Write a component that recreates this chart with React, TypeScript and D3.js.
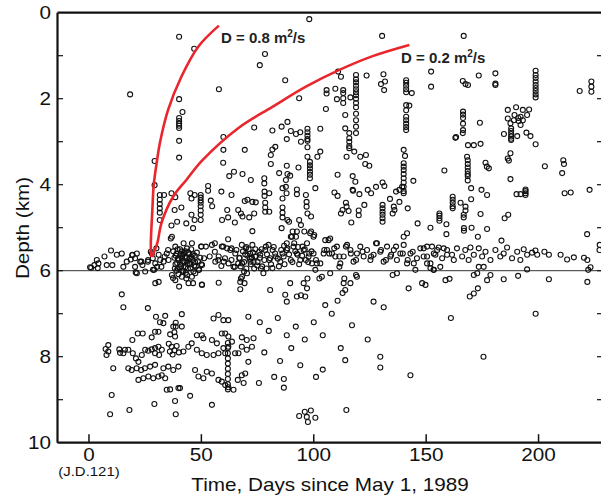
import React from 'react';
import * as d3 from 'd3';

type P = [number, number];

const xTicks = [0, 50, 100, 150, 200];
const yTickLabels = [0, 2, 4, 6, 8, 10];
const yMinorTicks = [1, 2, 3, 4, 5, 6, 7, 8, 9];

// theoretical diffusion fronts (day, depth km)
const curve08: P[] = [[27.7, 5.68], [27.5, 5.4], [28.2, 4.59], [28.8, 4.01], [30.3, 3.43], [31.5, 3.04], [35.2, 2.26], [41.1, 1.49], [48.6, 0.79], [57.8, 0.30]];
const curve02: P[] = [[28.0, 5.68], [30.4, 5.36], [32.2, 4.90], [37.4, 4.28], [43.3, 3.89], [50.5, 3.43], [66.8, 2.67], [81.6, 2.19], [96.5, 1.72], [111.4, 1.33], [126.2, 1.01], [142.5, 0.75]];

// vertical streaks of events: [day, depths]
const streaks: [number, number[]][] = [
  [40.1, [2.45, 2.52, 2.58, 2.63, 2.68]],
  [118.8, [1.45, 1.55, 1.62, 1.7, 1.78, 1.85, 1.92, 2.0, 2.1, 2.2, 2.35, 2.5, 2.65, 2.8]],
  [141.1, [1.57, 1.63, 1.70, 1.78, 1.85, 2.15, 2.27, 2.42, 2.5, 2.58, 2.66, 2.73]],
  [105.7, [1.80, 1.88]],
  [113.1, [1.80, 1.87]],
  [115.8, [2.80, 2.92, 3.0, 3.1, 3.15]],
  [97.2, [2.7, 2.78, 2.86, 2.94, 2.98]],
  [198.7, [1.35, 1.45, 1.52, 1.6, 1.68, 1.75, 1.82, 1.9, 1.97]],
  [223.5, [1.60, 1.72, 1.84]],
  [166.4, [2.3, 2.37, 2.45, 2.58, 2.73]],
  [187.8, [2.69, 2.75, 2.82, 2.88, 2.93, 2.96]],
  [31.5, [4.24, 4.35, 4.45, 4.55, 4.65, 4.82]],
  [49.7, [4.24, 4.3, 4.36, 4.42, 4.5, 4.6, 4.7, 4.82]],
  [98.3, [3.47, 3.55, 3.62, 3.7, 3.77, 3.85]],
  [130.6, [4.47, 4.55, 4.63, 4.7, 4.78, 4.86]],
  [140, [3.5, 3.58, 3.66, 3.75, 3.85, 3.95, 4.05, 4.15, 4.2]],
  [168.5, [3.43, 3.52, 3.6, 3.68, 3.75, 3.8, 3.9]],
  [194.2, [4.11, 4.15, 4.2, 4.24]],
  [161.8, [4.28, 4.35, 4.42, 4.5, 4.55]],
  [155.9, [4.67, 4.72, 4.78, 4.84]],
  [61.8, [7.68, 7.8, 7.92, 8.04, 8.16, 8.28, 8.4, 8.52, 8.64, 8.76]],
];

const upperPoints: P[] = [
  [40.1, 0.56], [46.8, 0.84], [18.3, 1.90], [57.8, 1.78], [40.1, 2.01], [41.6, 2.31], [40.1, 2.98], [40.1, 3.37], [59.8, 2.89], [59.8, 3.19],
  [98.0, 0.15], [130.4, 0.54], [78.3, 0.96], [76.0, 1.22], [87.3, 1.57], [93.5, 1.99], [110.8, 1.37], [112.1, 1.49], [123.5, 1.46], [131, 1.43],
  [131.7, 1.60], [129.9, 1.66], [131.3, 1.80], [143.6, 1.87], [142.5, 2.16], [140, 3.19], [140.6, 3.33], [109.6, 1.77], [110.3, 2.01], [113.1, 1.99],
  [116.3, 1.97], [113.1, 2.1], [105.4, 2.24], [114.0, 2.38], [114, 2.69], [118, 3.23], [120.7, 3.35], [123.2, 3.31], [114.6, 3.35], [73.5, 2.67],
  [81.6, 2.74], [85.7, 2.65], [88.3, 2.54], [88, 2.94], [89.8, 2.75], [92.1, 2.82], [94, 2.78], [94.3, 3.0], [102.9, 2.70], [97.2, 3.13],
  [97.2, 3.35], [101.6, 3.35], [102.9, 3.23], [69.3, 3.19], [81.6, 3.18], [82.9, 3.12], [80.9, 3.31],
  [166.7, 0.54], [152.2, 1.37], [152.2, 1.72], [166.3, 1.59], [168.6, 1.68], [167.5, 1.66], [173.4, 1.46], [180.8, 1.41], [180.8, 1.68], [180.8, 1.65],
  [218.3, 1.82], [173.9, 2.56], [166.3, 2.80], [163, 2.91], [163.3, 2.89], [168.6, 3.08], [171.2, 3.08], [174.2, 3.05], [168.2, 3.35], [186.3, 2.26],
  [190, 2.2], [193, 2.26], [195.8, 2.25], [194.9, 2.38], [192, 2.42], [189.3, 2.38], [186.3, 2.46], [187.5, 2.57], [192, 2.61], [189, 2.5],
  [191.2, 2.52], [194.6, 2.79], [196.4, 2.87], [184.6, 2.82], [190.5, 2.87], [198.7, 3.06], [187.5, 3.27], [186.3, 3.39], [211, 3.43], [191, 2.45], [193, 2.5],
  [29.2, 4.01], [29.2, 3.45], [33.4, 4.24], [36.7, 4.20], [38.4, 4.29], [38.1, 4.59], [41.1, 4.53], [39.2, 4.86], [36.7, 4.95], [36.4, 5.25],
  [43.3, 4.9], [45.1, 4.20], [45.6, 4.32], [47, 4.24], [45.6, 4.7], [47, 4.82], [46.3, 5.01], [53, 4.03], [53, 4.14], [54.2, 4.37],
  [54.8, 4.5], [58.9, 4.16], [63.4, 4.24], [59.7, 3.49], [62.4, 3.80], [64.5, 3.70], [61.5, 4.59], [66.4, 4.59], [59.2, 4.82], [61.9, 4.76], [64.9, 4.88],
  [68.3, 3.75], [72, 3.89], [80.9, 3.52], [78, 3.85], [78, 3.97], [78.1, 4.16], [78.1, 4.26], [80.2, 4.2], [84.6, 3.73], [88, 3.56],
  [88.3, 3.75], [89.5, 3.79], [87.6, 3.89], [86.1, 4.08], [87.6, 4.05], [87.9, 4.2], [86.1, 4.32], [93.2, 3.60], [92.5, 4.11], [92.5, 4.22],
  [100.7, 4.08], [96.5, 4.24], [96.8, 4.4], [96.8, 4.51], [97.2, 4.67], [98.8, 4.74], [94.3, 4.94], [93.5, 4.82], [95.8, 5.09], [98.8, 5.09],
  [100.2, 5.17], [90.6, 5.09], [92.1, 5.21], [86.1, 4.53], [86.1, 4.65], [86.1, 4.76], [88.3, 4.82], [89, 4.86], [85.7, 5.01], [89.8, 5.21],
  [72.7, 4.40], [74.2, 4.41], [70.5, 4.35], [69.3, 4.38], [78.4, 4.42], [78.4, 4.53], [78.4, 4.63], [80.2, 4.63], [73.5, 4.67], [67.6, 4.67],
  [68.3, 4.74], [71.3, 4.76], [72.7, 5.08], [110.6, 3.77], [109.2, 4.18], [110.6, 4.26], [117.3, 3.80], [118.5, 3.93], [117.3, 4.12], [117.5, 4.14],
  [120.3, 4.22], [124, 4.12], [122.5, 4.47], [114.3, 4.42], [114.6, 4.51], [112.8, 4.59], [112.1, 4.67], [115.5, 4.61], [120, 4.6], [120, 4.71],
  [116.7, 4.88], [122.9, 3.52], [124.7, 3.56], [130.6, 3.95], [131.4, 4.03], [127.7, 4.05], [125.5, 4.20], [135.1, 4.67], [135.9, 4.59], [135.6, 4.51],
  [133.9, 4.33], [138.1, 4.4], [141.8, 4.55], [146.2, 4.9], [136.6, 4.16], [138.1, 4.12], [139.3, 4.05], [144.3, 3.91],
  [158.1, 3.67], [170, 4.08], [170, 4.34], [176.4, 3.49], [177.9, 3.62], [177, 3.58], [174.6, 4.12], [177.1, 4.24], [187.5, 3.87], [186.8, 3.44],
  [192, 4.22], [190.2, 4.22], [202.8, 3.57], [211.3, 3.52], [210.5, 3.73], [211.6, 4.2], [214.3, 4.18], [222.7, 4.12], [165.3, 4.42], [167.5, 4.51],
  [167.5, 4.6], [159, 4.92], [159, 5.15], [151.9, 5.0], [166.7, 4.7], [166.7, 4.76], [166.8, 5.01], [166.8, 5.07], [170.2, 5.0], [174.2, 4.68],
  [177.1, 5.03], [184.9, 4.78], [186.5, 4.7], [173, 5.21], [183.5, 5.3], [221.6, 5.15], [227.2, 5.4],
];

const bandPoints: P[] = [
  [0.5, 5.92], [2.4, 5.87], [3.5, 5.75], [4.2, 5.83], [3.9, 5.94], [6.9, 5.67], [7.9, 5.87], [9.8, 5.53], [10.4, 5.87], [12.4, 5.63],
  [14.6, 5.60], [15.3, 5.91], [16.8, 5.79], [19.4, 5.63], [20.5, 5.71], [21.3, 5.60], [20.5, 5.91], [21.3, 6.06], [22.8, 5.79], [23.8, 5.87],
  [25.0, 6.02], [26.2, 5.79], [28.0, 5.60], [28.4, 5.71], [29.0, 5.98], [29.5, 5.83], [31.0, 5.63], [31.7, 5.75], [33.2, 5.79], [34.6, 5.60],
  [35.4, 5.75], [18.6, 5.74], [19.2, 5.64], [23.3, 5.79], [27.5, 5.56], [30, 5.48], [32.2, 5.91], [33.7, 5.67], [35.2, 5.52], [30.3, 5.91],
  [28.5, 5.98], [20.8, 6.04], [26.3, 5.75], [1.0, 5.93],
  [36.9, 5.21], [38.4, 5.44], [42.1, 5.36], [43.6, 5.48], [45.8, 5.36], [49.9, 5.44], [54.7, 5.40], [59.1, 5.44], [61.4, 5.48], [62.9, 5.52],
  [65.1, 5.60], [66.9, 5.71], [57.7, 5.67], [56.2, 5.79], [59.9, 5.79], [62.1, 5.83], [64.3, 5.91], [68.1, 5.83], [71.8, 5.79], [70.3, 6.06],
  [68.1, 6.14], [67.3, 6.26], [69.2, 6.29], [67.3, 6.43], [57.7, 6.28], [50.2, 6.32], [44.3, 6.29], [40.1, 6.37], [38.4, 6.22], [36.9, 6.1],
  [41.3, 6.14], [43.6, 6.1], [45.8, 6.14], [47.3, 6.06], [48.8, 5.98], [37.4, 6.17], [43.3, 6.18], [46.3, 6.29], [50.3, 6.33],
  [56, 5.36], [59.7, 5.44], [61.9, 5.27], [63.4, 5.48], [65.6, 5.52], [57.5, 5.75], [60.5, 5.71], [63.4, 5.75], [66.4, 5.83], [56, 5.56],
  [53.7, 5.67], [58.9, 5.89], [64.9, 5.91], [51.2, 5.71], [50.3, 5.87], [52, 5.44], [50, 5.44],
  [37.5, 5.55], [38, 5.7], [38.5, 5.85], [39, 5.6], [39.5, 5.95], [40, 5.75], [40.5, 5.5], [41, 5.9], [41.5, 5.65], [42, 6.0],
  [42.5, 5.8], [43, 5.55], [43.5, 5.7], [44, 5.95], [44.5, 5.62], [45, 5.85], [45.5, 5.5], [46, 5.75], [46.5, 6.02], [47, 5.65],
  [47.5, 5.9], [48, 5.58], [48.5, 5.78], [49, 5.98], [49.5, 5.7], [50, 5.85], [39.8, 6.08], [41.8, 5.78], [43.8, 5.85], [38.2, 5.95],
  [40.8, 5.62], [42.8, 5.92], [44.8, 5.72], [46.8, 5.88], [39.2, 5.82], [41.2, 5.7],
  [38.6, 5.65], [39.6, 5.72], [40.6, 5.85], [41.6, 6.02], [42.6, 5.68], [43.4, 5.78], [44.2, 5.58], [45.2, 5.95], [46.2, 5.62], [47.2, 5.8],
  [40.2, 5.92], [42.2, 5.6], [44.6, 5.82], [38.9, 6.0], [43.1, 6.05], [45.6, 5.68], [41.4, 5.55], [39.4, 5.5],
  [71.7, 5.60], [73.9, 5.67], [76.2, 5.63], [78.4, 5.52], [79.9, 5.40], [80.6, 5.71], [82.8, 5.60], [85.1, 5.79], [86.6, 5.67], [88.0, 5.52],
  [88.0, 5.36], [90.3, 5.21], [91.0, 5.44], [92.5, 5.60], [94.0, 5.75], [95.5, 5.52], [97.0, 5.36], [97.7, 5.67], [99.2, 5.83], [99.9, 5.60],
  [101.4, 5.83], [102.9, 5.83], [104.4, 5.60], [105.9, 5.52], [106.6, 5.29], [108.1, 5.60], [109.6, 5.67], [110.3, 5.44], [111.8, 5.83], [113.3, 5.67],
  [114.8, 5.40], [116.3, 5.52], [117.7, 5.79], [119.2, 5.60], [120.7, 5.44], [122.2, 5.67], [123.7, 5.52], [125.2, 5.75], [126.6, 5.63], [128.1, 5.36],
  [129.6, 5.56], [131.1, 5.79], [132.6, 5.44], [134.1, 5.67], [135.6, 5.52], [137.0, 5.75], [138.5, 5.60], [140.0, 5.40], [141.5, 5.83], [143.0, 5.60],
  [144.5, 5.83], [145.9, 5.71], [147.4, 5.48], [148.9, 5.67], [150.4, 5.44], [151.9, 5.83], [153.4, 5.60], [154.9, 5.52], [156.3, 5.91], [157.8, 5.48],
  [159.3, 5.63], [92.5, 5.09], [98.4, 5.13], [99.9, 5.21], [105.1, 5.29], [107.3, 5.25], [140.0, 5.21], [141.5, 5.13],
  [69.8, 5.48], [72.7, 5.40], [74.2, 5.67], [75.7, 5.56], [78.7, 5.44], [80.2, 5.75], [81.7, 5.52], [83.1, 5.67], [86.1, 5.60], [88.3, 5.48],
  [89.8, 5.75], [91.3, 5.36], [92.8, 5.63], [95.0, 5.44], [96.5, 5.75], [98.0, 5.60], [101.0, 5.75], [104.7, 5.52], [106.9, 5.60], [109.1, 5.48],
  [111.4, 5.67], [114.3, 5.44], [116.5, 5.60], [118.8, 5.75], [121.7, 5.56], [125.5, 5.67], [127.7, 5.36], [129.9, 5.52], [132.1, 5.75], [134.4, 5.63],
  [136.6, 5.44], [139.6, 5.60], [141.8, 5.75], [144.0, 5.56],
  [67, 5.7], [67.5, 5.9], [68.5, 5.55], [69, 5.8], [70, 5.95], [70.5, 5.65], [71, 5.5], [72, 5.85], [72.5, 5.7], [73.5, 5.95],
  [74, 5.5], [75, 5.8], [76, 5.7], [77, 5.9], [68, 5.4], [70, 5.45],
  [69.5, 5.62], [71.5, 5.72], [73, 5.58], [74.8, 5.88], [76.8, 5.5], [78, 5.75], [79.2, 5.62], [81, 5.85], [82.2, 5.45], [84, 5.72],
  [85.5, 5.52], [87, 5.85], [89, 5.62], [90.5, 5.8], [91.8, 5.55], [93.5, 5.85], [94.8, 5.65], [96, 5.5], [97.5, 5.8], [99, 5.55],
  [84.5, 5.9], [76.5, 5.95], [79, 5.95], [86.8, 5.42], [93, 5.45], [73.2, 5.8],
  [148.9, 5.48], [150.4, 5.67], [152.6, 5.44], [154.1, 5.63], [155.6, 5.46], [157.1, 5.71], [159.3, 5.52], [161.5, 5.63], [162.3, 5.75], [163.7, 5.48],
  [166.0, 5.67], [167.4, 5.52], [168.9, 5.75], [169.7, 5.46], [171.2, 5.63], [173.4, 5.48], [174.9, 5.67], [176.4, 5.56], [178.6, 5.75], [180.8, 5.52],
  [183.0, 5.67], [184.5, 5.60], [186.0, 5.46], [188.2, 5.71], [190.5, 5.56], [191.9, 5.75], [193.4, 5.50], [194.9, 5.63], [197.1, 5.58], [198.6, 5.53],
  [199.4, 5.63], [202.6, 5.56], [204.6, 5.63], [209.8, 5.63], [212.7, 5.74], [215.7, 5.69], [220.2, 5.70], [221.7, 5.75], [227.1, 5.52], [150.4, 5.83],
  [151.9, 5.94], [153.3, 5.98], [173.4, 5.91], [175.6, 5.91], [223.1, 5.92], [222.1, 5.98], [221.7, 6.26],
  [77.6, 6.06], [80.6, 6.45], [87.3, 6.56], [88.0, 6.72], [89.5, 6.29], [92.5, 6.60], [95.5, 6.29], [96.2, 6.60], [97.0, 6.41], [100.7, 5.98],
  [103.6, 6.14], [105.1, 6.80], [107.3, 6.06], [110.6, 6.70], [113.3, 6.29], [114.0, 6.45], [113.6, 6.18], [116.3, 6.29], [119.2, 6.14], [126.6, 6.72],
  [131.1, 6.85], [137.0, 6.06], [142.2, 6.41], [145.2, 5.98], [148.2, 6.29], [149.7, 6.33], [153.4, 5.98], [158.6, 6.22],
  [67.6, 6.18], [69, 6.02], [81.6, 5.94], [94.3, 6.57], [97.2, 6.18], [102.5, 6.18], [111.4, 5.91], [112.8, 6.52], [118.8, 6.10], [135.1, 6.1],
  [160.4, 6.19], [171.2, 6.10], [172.7, 6.06], [178.6, 6.10], [177.1, 6.22], [173, 6.41], [171.2, 6.53], [169.4, 6.6], [184.5, 6.2], [190.9, 6.12],
  [194.9, 5.97], [204.6, 6.2],
];

const lowerPoints: P[] = [
  [14.6, 6.55], [15.3, 6.85], [26.2, 6.87], [29.5, 6.29], [31.0, 6.26],
  [29.8, 7.07], [33.9, 7.05], [31.6, 7.2], [33.1, 7.22], [41.3, 7.01], [38.6, 7.21], [37.5, 7.3], [38.6, 7.3], [41.3, 7.3], [29.4, 7.42],
  [30.9, 7.42], [21.7, 7.46], [23.9, 7.46], [19.3, 7.61], [27.9, 7.55], [36.1, 7.48], [38, 7.43], [38.3, 7.53],
  [35.5, 7.7], [36.8, 7.77], [38, 7.85], [37.2, 7.95], [39, 7.75], [40, 7.9], [36, 7.88],
  [8.6, 7.73], [7.4, 7.82], [8.6, 7.88], [7.8, 7.96], [10.8, 8.27], [10.1, 8.89], [9.4, 9.34], [18, 9.24], [29.1, 9.10], [38.6, 9.34],
  [38.3, 9.03], [45, 8.91],
  [13.5, 7.83], [16, 7.84], [17.5, 7.84], [13.8, 7.91], [15.3, 7.92], [19.5, 7.92], [20.9, 8.04], [22, 8.12], [23.5, 7.96], [25, 7.84],
  [26.4, 7.86], [27.9, 7.83], [29.4, 7.8], [30.9, 7.77], [32.4, 7.84], [29.4, 7.92], [31.2, 7.96],
  [17.5, 8.27], [19, 8.31], [21.2, 8.27], [23.2, 8.31], [24.9, 8.27], [27.2, 8.23], [29.4, 8.19], [33.1, 8.27], [35.3, 8.23], [37.5, 8.31], [39.8, 8.23],
  [22, 8.54], [24.2, 8.50], [26.4, 8.46], [28.6, 8.50], [30.9, 8.46], [32.4, 8.43], [33.9, 8.50], [34.6, 8.77], [36.1, 8.76], [39.8, 8.73], [40.5, 8.73],
  [48, 7.5], [50.2, 7.5], [50.9, 7.57], [54.7, 7.61], [56.9, 7.69], [59.1, 7.46], [62, 7.53], [63.6, 7.65], [68, 7.55], [70.2, 7.61],
  [73.2, 7.57], [72.5, 7.77], [70.2, 7.84], [68, 7.77], [66.5, 7.92], [65, 7.92], [62, 7.77], [59.8, 7.8], [60.6, 7.92], [57.6, 7.92],
  [55.4, 7.96], [52.4, 7.96], [50.2, 7.92], [48, 7.84], [45.7, 7.69], [44.2, 7.77], [42, 7.88],
  [47.2, 8.31], [48.7, 8.46], [50.9, 8.5], [52.4, 8.35], [54.7, 8.39], [57.6, 8.54], [59.1, 8.58], [60.6, 8.66], [62, 8.71], [64.3, 8.77],
  [66.2, 8.54], [68, 8.43], [69.5, 8.39], [70.9, 8.12], [55.4, 7.11], [57.6, 7.03], [59.8, 7.15], [62, 7.15], [60.6, 7.46], [70.9, 7.07], [54.7, 9.12],
  [75.6, 8.61], [68.8, 8.61], [82.4, 8.47], [86.7, 8.52], [86.7, 8.72], [101, 8.47], [93.5, 9.38], [96, 9.28], [96.9, 9.40], [98.7, 9.25],
  [97.4, 9.52], [100.7, 9.42], [114.5, 9.24],
  [76, 7.2], [80, 7.4], [84, 7.1], [88, 7.5], [92, 7.3], [96, 7.6], [100, 7.2], [104, 7.5], [108, 7.0], [112, 7.8],
  [117, 7.27], [129.6, 8.0], [129.6, 8.25], [114, 8.08], [143, 8.43], [161, 7.1], [175.5, 8.0], [198.7, 7.0], [78, 7.9], [85, 8.1],
  [90, 7.8], [94, 8.2], [104, 8.3], [124, 7.6],
];

const FONT = "'Liberation Sans', Arial, Helvetica, sans-serif";
const SX = 1.15;

export default function App() {
  const x = d3.scaleLinear().domain([-14, 230]).range([57.5, 606]);
  const y = d3.scaleLinear().domain([0, 10]).range([12.7, 442.7]);
  const line = d3.line<P>().x(d => x(d[0])).y(d => y(d[1])).curve(d3.curveCatmullRom.alpha(0.5));
  const streakPts: P[] = streaks.flatMap(([d, ds]) => ds.map(v => [d, v] as P));
  const all: P[] = [...upperPoints, ...bandPoints, ...lowerPoints, ...streakPts];
  const x0 = x.range()[0], x1 = x.range()[1];
  const y0 = y.range()[0], y1 = y.range()[1];

  return (
    <svg width={601} height={497} style={{ position: 'absolute', left: 0, top: 0, background: '#fff' }} fontFamily={FONT}>
      <rect x={0} y={0} width={601} height={497} fill="#fff" />
      <line x1={x0} x2={x1} y1={y(6)} y2={y(6)} stroke="#333" strokeWidth={1} />
      <g fill="none" stroke="#111" strokeWidth={1.1}>
        {all.map((p, i) => (
          <circle key={i} cx={x(p[0])} cy={y(p[1])} r={2.5} />
        ))}
      </g>
      <path d={line(curve08) || ''} fill="none" stroke="#e8262c" strokeWidth={2.6} />
      <path d={line(curve02) || ''} fill="none" stroke="#e8262c" strokeWidth={2.6} />
      <g stroke="#111" fill="none">
        <line x1={x0} x2={x1} y1={y0} y2={y0} strokeWidth={2.2} />
        <line x1={x0} x2={x1} y1={y1} y2={y1} strokeWidth={2.2} />
        <line x1={x0} x2={x0} y1={y0} y2={y1} strokeWidth={2.2} />
        <line x1={x1} x2={x1} y1={y0} y2={y1} strokeWidth={2.2} />
        {xTicks.map(t => (
          <line key={'xt' + t} x1={x(t)} x2={x(t)} y1={y1} y2={y1 - 8.5} strokeWidth={1.5} />
        ))}
        {yMinorTicks.map(t => (
          <line key={'yl' + t} x1={x0} x2={x0 + 5.5} y1={y(t)} y2={y(t)} strokeWidth={1.2} />
        ))}
        {yMinorTicks.map(t => (
          <line key={'yr' + t} x1={x1} x2={x1 - 9} y1={y(t)} y2={y(t)} strokeWidth={1.2} />
        ))}
      </g>
      <g fontSize={18} fill="#111">
        {xTicks.map(t => (
          <text key={'xl' + t} transform={`translate(${x(t)},${461}) scale(${SX},1)`} textAnchor="middle">{t}</text>
        ))}
        {yTickLabels.map(t => (
          <text key={'yl' + t} transform={`translate(${51},${y(t) + 6.5}) scale(${SX},1)`} textAnchor="end">{t}</text>
        ))}
      </g>
      <text transform={`translate(${x(0)},${476}) scale(${SX},1)`} textAnchor="middle" fontSize={13} fill="#111">(J.D.121)</text>
      <text transform={`translate(${330},${491}) scale(${SX},1)`} textAnchor="middle" fontSize={18} fill="#111">Time, Days since May 1, 1989</text>
      <text transform={`translate(${29},${228}) rotate(-90) scale(${SX},1)`} textAnchor="middle" fontSize={18} fill="#111">Depth (km)</text>
      <text x={221} y={43} fontSize={15} fontWeight="bold" fill="#222">D = 0.8 m<tspan dy={-6} fontSize={10}>2</tspan><tspan dy={6}>/s</tspan></text>
      <text x={401} y={63} fontSize={15} fontWeight="bold" fill="#222">D = 0.2 m<tspan dy={-6} fontSize={10}>2</tspan><tspan dy={6}>/s</tspan></text>
    </svg>
  );
}
